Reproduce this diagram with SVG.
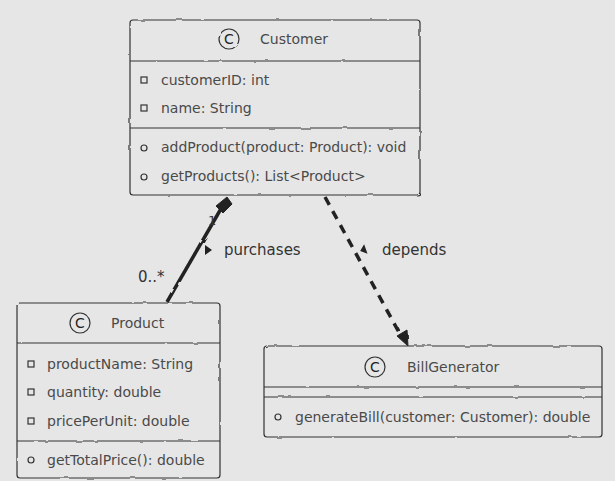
<svg xmlns="http://www.w3.org/2000/svg" width="615" height="481" viewBox="0 0 615 481">
<defs>
<style>
.bg{fill:#e6e6e6}
.box{fill:#e6e6e6;stroke:#333;stroke-width:1.2}
.ln{stroke:#333;stroke-width:1.2;fill:none}
.t{font-family:"DejaVu Sans",sans-serif;font-size:14px;fill:#4a4a4a}
.title{font-family:"DejaVu Sans",sans-serif;font-size:14px;fill:#4a4a4a}
.c{font-family:"DejaVu Sans",sans-serif;font-size:14px;fill:#222;text-anchor:middle}
.ic{fill:none;stroke:#333;stroke-width:1.2}
.lbl{font-family:"DejaVu Sans",sans-serif;font-size:15px;fill:#333}
</style>
<filter id="rough" x="-5%" y="-5%" width="110%" height="110%">
<feTurbulence type="fractalNoise" baseFrequency="0.08" numOctaves="2" seed="3"/>
<feDisplacementMap in="SourceGraphic" scale="2.2"/>
</filter>
</defs>
<rect class="bg" x="0" y="0" width="615" height="481"/>

<g id="connectors">
<g filter="url(#rough)">
<line x1="167" y1="302" x2="222" y2="207" stroke="#222" stroke-width="3.5"/>
<path d="M227,197 L232,204 L223,213 L216,206 Z" fill="#222" stroke="#222" stroke-width="1"/>
<line x1="325" y1="197" x2="401" y2="336" stroke="#222" stroke-width="3.5" stroke-dasharray="9,7"/>
<path d="M408,346 L397,336 L407,330 Z" fill="#222" stroke="#222" stroke-width="1"/>
</g>
<text class="lbl" x="208" y="225" style="font-size:13px">1</text>
<text class="lbl" x="138" y="282">0..*</text>
<path d="M205,245 L212,250 L205,255 Z" fill="#222"/>
<text class="lbl" x="224" y="255">purchases</text>
<path d="M366,245 L360,250 L366,255 Z" fill="#222" transform="rotate(-20 363 250)"/>
<text class="lbl" x="382" y="255">depends</text>
</g>

<g id="Customer">
<g filter="url(#rough)">
<rect class="box" x="130" y="20" width="290" height="175" rx="3"/>
<line class="ln" x1="130" y1="61" x2="420" y2="61"/>
<line class="ln" x1="130" y1="128" x2="420" y2="128"/>
<circle class="ic" cx="229" cy="39" r="10"/>
</g>
<text class="c" x="229" y="44">C</text>
<text class="title" x="260" y="44">Customer</text>
<rect class="ic" x="141" y="77" width="6" height="6"/>
<text class="t" x="161" y="85">customerID: int</text>
<rect class="ic" x="141" y="105" width="6" height="6"/>
<text class="t" x="161" y="113">name: String</text>
<circle class="ic" cx="144" cy="148" r="3"/>
<text class="t" x="161" y="152">addProduct(product: Product): void</text>
<circle class="ic" cx="144" cy="177" r="3"/>
<text class="t" x="161" y="181">getProducts(): List&lt;Product&gt;</text>
</g>

<g id="Product">
<g filter="url(#rough)">
<rect class="box" x="17" y="303" width="203" height="175" rx="3"/>
<line class="ln" x1="17" y1="343" x2="220" y2="343"/>
<line class="ln" x1="17" y1="441" x2="220" y2="441"/>
<circle class="ic" cx="80" cy="323" r="10"/>
</g>
<text class="c" x="80" y="328">C</text>
<text class="title" x="111" y="328">Product</text>
<rect class="ic" x="28" y="361" width="6" height="6"/>
<text class="t" x="47" y="369">productName: String</text>
<rect class="ic" x="28" y="389" width="6" height="6"/>
<text class="t" x="47" y="397">quantity: double</text>
<rect class="ic" x="28" y="418" width="6" height="6"/>
<text class="t" x="47" y="426">pricePerUnit: double</text>
<circle class="ic" cx="31" cy="460" r="3"/>
<text class="t" x="47" y="465">getTotalPrice(): double</text>
</g>

<g id="BillGenerator">
<g filter="url(#rough)">
<rect class="box" x="264" y="346" width="338" height="91" rx="3"/>
<line class="ln" x1="264" y1="387" x2="602" y2="387"/>
<line class="ln" x1="264" y1="397" x2="602" y2="397"/>
<circle class="ic" cx="375" cy="367" r="10"/>
</g>
<text class="c" x="375" y="372">C</text>
<text class="title" x="407" y="372">BillGenerator</text>
<circle class="ic" cx="278" cy="417" r="3"/>
<text class="t" x="295" y="422">generateBill(customer: Customer): double</text>
</g>
</svg>
